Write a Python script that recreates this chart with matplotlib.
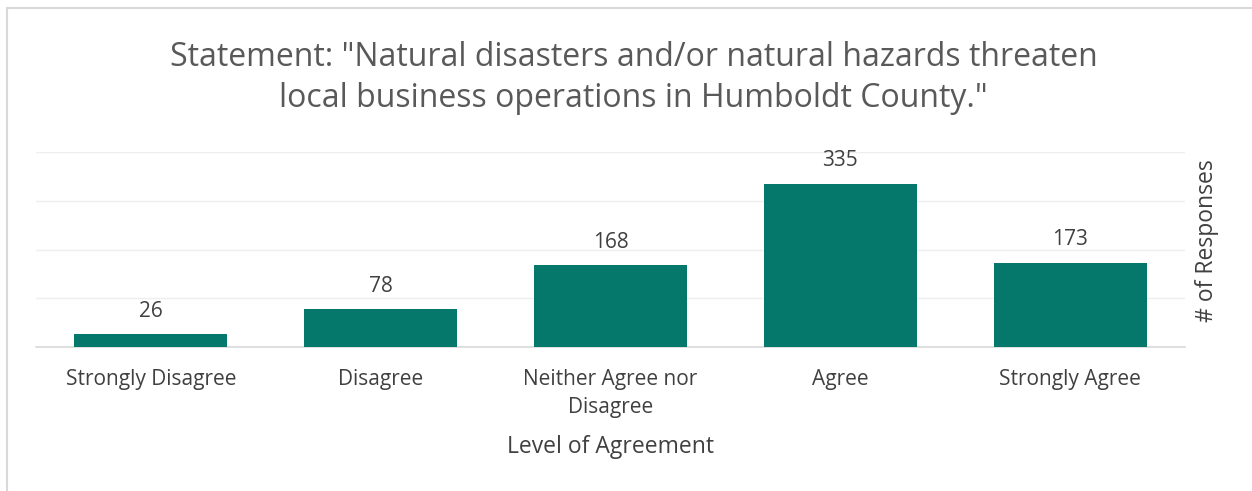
import matplotlib.pyplot as plt
from matplotlib.patches import Rectangle

### Survey data

categories = ["Strongly Disagree", "Disagree", "Neither Agree nor\nDisagree", "Agree", "Strongly Agree"]
responses = [26, 78, 168, 335, 173]

title = 'Statement: "Natural disasters and/or natural hazards threaten\nlocal business operations in Humboldt County."'

### Styling

plt.rcParams['font.family'] = ['Open Sans', 'DejaVu Sans']
bar_color = '#05776B'
text_color = '#404040'

fig = plt.figure(figsize=(12.52, 4.91), dpi=100)

# chart frame (only the top/left edges are visible in the screenshot)
fig.patches.append(Rectangle((7 / 1252, -0.1), 1.2, (491 - 8) / 491 + 0.1,
                             transform=fig.transFigure, fill=False,
                             edgecolor='#d9d9d9', linewidth=1.5))

ax = fig.add_axes([36 / 1252, 144 / 491, 1149 / 1252, 195 / 491])

x = range(len(categories))
bars = ax.bar(x, responses, width=0.665, color=bar_color, zorder=3)

for b, v in zip(bars, responses):
    ax.text(b.get_x() + b.get_width() / 2, v + 25, str(v),
            ha='center', va='bottom', fontsize=15, color=text_color)

ax.set_xlim(-0.5, len(categories) - 0.5)
ax.set_ylim(0, 400)
ax.set_yticks([0, 100, 200, 300, 400])
ax.yaxis.grid(True, color='#eeeeee', linewidth=1, zorder=0)
ax.tick_params(axis='y', length=0, labelleft=False)

ax.set_xticks(list(x))
ax.set_xticklabels(categories, fontsize=15, color=text_color, linespacing=1.45)
ax.tick_params(axis='x', length=0, pad=16)

for s in ['top', 'right', 'left']:
    ax.spines[s].set_visible(False)
ax.spines['bottom'].set_color('#d9d9d9')
ax.spines['bottom'].set_linewidth(1.2)

ax.set_xlabel("Level of Agreement", fontsize=16.5, color=text_color, labelpad=12)

fig.text(1207 / 1252, 250 / 491, "# of Responses", rotation=90,
         ha='center', va='center', fontsize=16.5, color=text_color)

fig.text(0.506, 1 - 78 / 491, title, ha='center', va='center',
         fontsize=23, color='#595959', linespacing=1.35)

fig.savefig('out.png', dpi=100)
